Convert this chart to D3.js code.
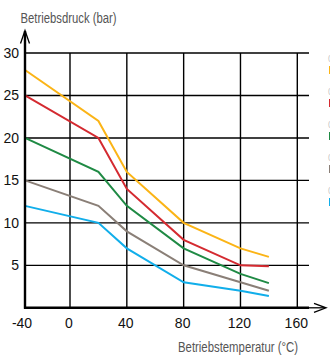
<!DOCTYPE html>
<html><head><meta charset="utf-8">
<script src="https://cdn.jsdelivr.net/npm/d3@7"></script>
<style>
html,body{margin:0;padding:0;background:#fff;overflow:hidden}
svg{display:block;font-family:'Liberation Sans Narrow','Arial Narrow',sans-serif}
</style></head><body>
<svg id="c" width="330" height="356"></svg>
<script>
const temps = [-40, 20, 40, 80, 120, 140];
const yellowVals = [28, 22, 16, 10, 7, 6];
const redVals = [25, 20, 14, 8, 5, 4.9];
const greenVals = [20, 16, 12, 7, 4, 2.9];
const brownVals = [15, 12, 9, 5, 3, 2];
const blueVals = [12, 10, 7, 3, 2, 1.4];
const seriesColors = ["#fbb416", "#d42a30", "#1f8a44", "#8a7f77", "#11aeea"];
const xTicks = [-40, 0, 40, 80, 120, 160];
const yTicks = [5, 10, 15, 20, 25, 30];
const yLabel = "Betriebsdruck (bar)";
const xLabel = "Betriebstemperatur (°C)";

const svg = d3.select("#c");
const x = d3.scaleLinear().domain([-40, 0, 160]).range([25, 70, 297.3]);
const y = d3.scaleLinear().domain([0, 30]).range([307.8, 53]);

// horizontal grid
svg.append("g").selectAll("line").data(yTicks).join("line")
  .attr("x1", 25).attr("x2", 309).attr("y1", d => y(d)).attr("y2", d => y(d))
  .attr("stroke", "#000").attr("stroke-width", 1.4);
// vertical grid
svg.append("g").selectAll("line").data(xTicks.slice(1)).join("line")
  .attr("x1", d => x(d)).attr("x2", d => x(d)).attr("y1", y(30)).attr("y2", y(0))
  .attr("stroke", "#000").attr("stroke-width", 1.4);

// series
const allSeries = [yellowVals, redVals, greenVals, brownVals, blueVals];
const line = d3.line().x(d => x(d[0])).y(d => y(d[1]));
svg.append("g").selectAll("path").data(allSeries).join("path")
  .attr("d", vals => line(temps.map((t, i) => [t, vals[i]])))
  .attr("fill", "none").attr("stroke", (d, i) => seriesColors[i])
  .attr("stroke-width", 2).attr("stroke-linejoin", "miter");

// axes
svg.append("line").attr("x1", 25).attr("x2", 25).attr("y1", y(0) + 1).attr("y2", 31)
  .attr("stroke", "#000").attr("stroke-width", 2.4);
svg.append("path").attr("d", "M20.5,43.5L25,30.5L29.5,43.5").attr("fill", "none")
  .attr("stroke", "#000").attr("stroke-width", 1.3);
svg.append("line").attr("x1", 24).attr("x2", 309).attr("y1", y(0)).attr("y2", y(0))
  .attr("stroke", "#000").attr("stroke-width", 2.6);
svg.append("line").attr("x1", 309).attr("x2", 325).attr("y1", y(0)).attr("y2", y(0))
  .attr("stroke", "#000").attr("stroke-width", 1.3);
svg.append("path").attr("d", `M314,${y(0)-4.5}L326,${y(0)}L314,${y(0)+4.5}`).attr("fill", "none")
  .attr("stroke", "#000").attr("stroke-width", 1.3);

// tick labels
svg.append("g").selectAll("text").data(yTicks).join("text")
  .attr("x", 19).attr("y", d => y(d) + 5).attr("text-anchor", "end")
  .attr("font-size", 14).attr("fill", "#111").text(d => d);
svg.append("g").selectAll("text").data(xTicks).join("text")
  .attr("x", d => x(d) + (d === -40 ? -3 : -1)).attr("y", 328).attr("text-anchor", "middle")
  .attr("font-size", 14).attr("fill", "#111").text(d => d);

// axis titles
svg.append("text").attr("x", 20.5).attr("y", 23).attr("font-size", 14)
  .attr("textLength", 96).attr("lengthAdjust", "spacingAndGlyphs")
  .attr("fill", "#555").text(yLabel);
svg.append("text").attr("x", 178).attr("y", 352).attr("font-size", 14)
  .attr("textLength", 120).attr("lengthAdjust", "spacingAndGlyphs")
  .attr("fill", "#555").text(xLabel);

// legend (only its left edge is visible)
const lg = svg.append("g").selectAll("g").data(seriesColors).join("g")
  .attr("transform", (d, i) => `translate(328,${57 + i * 33})`);
lg.append("text").attr("x", 0).attr("y", 3).attr("font-size", 7).attr("fill", "#bbb").text("(");
lg.append("rect").attr("x", 1).attr("y", 9).attr("width", 8).attr("height", 8)
  .attr("fill", d => d);
</script>
</body></html>
